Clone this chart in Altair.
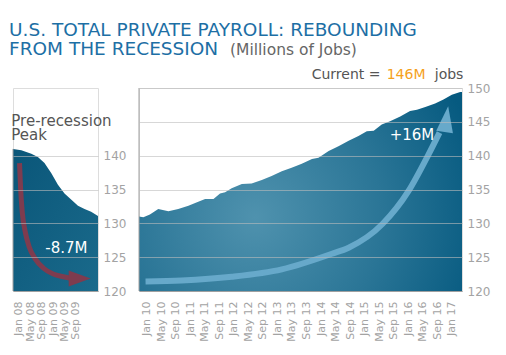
import json
import altair as alt
import pandas as pd

# ---------------- data ----------------
# Left panel: recession (month index, Jan 08 = 0)
left_idx = [-2.0, 0.9, 4.4, 6.7, 9.0, 11.4, 13.7, 16.0, 18.4, 20.7, 23.0, 25.3, 27.7]
left_val = [141.0, 140.8, 140.3, 139.8, 138.9, 137.4, 135.7, 134.4, 133.5, 132.6, 132.1, 131.7, 131.1]
left_labels = ["Jan 08", "May 08", "Sep 08", "Jan 09", "May 09", "Sep 09"]
left_ticks = [0, 4, 8, 12, 16, 20]
left_y_ticks = [120, 125, 130, 135, 140]
left_domain = [-2.0, 27.7]

# Right panel: recovery (month index, Jan 10 = 0)
right_idx = [-2.1, -0.9, 0.9, 3.2, 6.0, 8.7, 11.5, 14.2, 16.1, 18.4, 20.2, 21.6, 23.4,
             26.2, 28.9, 31.7, 34.4, 37.2, 39.9, 42.7, 45.5, 47.3, 50.1, 52.8, 55.6,
             58.3, 60.6, 62.5, 64.7, 67.0, 69.8, 72.5, 74.4, 76.7, 79.4, 81.7, 84.0,
             86.3, 86.8]
right_val = [131.0, 130.9, 131.3, 132.1, 131.8, 132.1, 132.6, 133.2, 133.6, 133.6, 134.4,
             134.6, 135.2, 135.8, 135.9, 136.4, 137.0, 137.7, 138.2, 138.8, 139.5, 139.7,
             140.7, 141.4, 142.2, 142.9, 143.6, 143.7, 144.6, 145.1, 145.8, 146.6, 146.8,
             147.2, 147.7, 148.3, 149.0, 149.4, 149.4]
right_labels = ["Jan 10", "May 10", "Sep 10", "Jan 11", "May 11", "Sep 11", "Jan 12",
                "May 12", "Sep 12", "Jan 13", "May 13", "Sep 13", "Jan 14", "May 14",
                "Sep 14", "Jan 15", "May 15", "Sep 15", "Jan 16", "May 16", "Sep 16",
                "Jan 17"]
right_ticks = [4 * i for i in range(len(right_labels))]
right_y_ticks = [120, 125, 130, 135, 140, 145, 150]
right_domain = [-2.1, 86.8]
y_domain = [120, 150]

# Annotation arrows (in data units of each panel)
down_arrow_idx = [0.28, 0.63, 1.22, 2.27, 3.67, 5.77, 8.57, 12.06, 15.6, 18.6]
down_arrow_val = [138.9, 135.4, 131.7, 128.75, 126.5, 124.75, 123.4, 122.5, 122.1, 121.85]
down_head = {"m": [21.3], "v": [121.85]}
up_arrow_idx = [-0.3, 9.6, 23.4, 37.2, 51.0, 55.6, 64.9, 72.1, 77.6, 80.6]
up_arrow_val = [121.4, 121.55, 122.1, 123.2, 125.5, 126.4, 129.9, 134.8, 140.2, 143.4]
up_head = {"m": [82.5], "v": [145.4]}

FONT = "DejaVu Sans"
GRAY = "#a3a3a3"
TITLE_BLUE = "#1d6fa5"


def label_expr(labels):
    return json.dumps(labels) + "[round(datum.value/4)]"


def text_layer(text, x, y, size, color, align="left", **kw):
    return alt.Chart(pd.DataFrame({"t": [text]})).mark_text(
        align=align, baseline="alphabetic", font=FONT, fontSize=size, color=color, **kw
    ).encode(x=alt.value(x), y=alt.value(y), text="t:N")


def y_axis(values):
    return alt.Axis(orient="right", values=values, domain=False, ticks=False,
                    labelColor=GRAY, labelFontSize=12, labelFont=FONT, labelPadding=5,
                    grid=True, gridColor="#bdbdbd", gridOpacity=0.6, zindex=1, title=None,
                    labelOverlap=False)


def x_axis(values, labels):
    return alt.Axis(values=values, labelExpr=label_expr(labels), labelAngle=270,
                    labelColor=GRAY, labelFontSize=11, labelFont=FONT, labelPadding=10,
                    ticks=False, domain=True, domainColor="#a0a0a0", grid=False,
                    title=None, labelOverlap=False, zindex=1)


# ---------------- left panel ----------------
lx = alt.X("m:Q", scale=alt.Scale(domain=left_domain, nice=False, zero=False),
           axis=x_axis(left_ticks, left_labels))
ly = alt.Y("v:Q", scale=alt.Scale(domain=y_domain, nice=False, zero=False),
           axis=y_axis(left_y_ticks))

ldf = pd.DataFrame({"m": left_idx, "v": left_val, "lo": y_domain[0]})
left_fill = {"gradient": "linear", "x1": 0, "y1": 0, "x2": 1, "y2": 1,
             "stops": [{"offset": 0, "color": "#0a5679"}, {"offset": 1, "color": "#1a6a8b"}]}
left_area = alt.Chart(ldf).mark_area(color=left_fill, opacity=1).encode(
    x=lx, y=ly, y2=alt.Y2("lo:Q"))
left_edge = alt.Chart(ldf.head(1)).mark_rule(color="#a0a0a0", strokeWidth=1).encode(
    x=lx, y=ly, y2=alt.Y2("lo:Q"))
dadf = pd.DataFrame({"m": down_arrow_idx, "v": down_arrow_val})
down_line = alt.Chart(dadf).mark_line(color="#7e3c4f", strokeWidth=5, interpolate="monotone",
                                      strokeCap="butt").encode(x=lx, y=ly)
down_tip = alt.Chart(pd.DataFrame(down_head)).mark_point(
    shape="M-1,-0.72L1,0L-1,0.72Z", size=484, filled=True, color="#7e3c4f", opacity=1
).encode(x=lx, y=ly)
down_txt = alt.Chart(pd.DataFrame({"m": [9.3], "v": [125.6], "t": ["-8.7M"]})).mark_text(
    align="left", baseline="alphabetic", font=FONT, fontSize=15, color="white"
).encode(x=lx, y=ly, text="t:N")

left = alt.layer(
    left_area, left_edge, down_line, down_tip, down_txt,
    text_layer("Pre-recession\nPeak", -1.7, 38, 15, "#555555", lineBreak="\n", lineHeight=14),
    text_layer("U.S. TOTAL PRIVATE PAYROLL: REBOUNDING", -4, -52, 18.5, TITLE_BLUE),
    text_layer("FROM THE RECESSION", -4, -33, 18.5, TITLE_BLUE),
    text_layer("(Millions of Jobs)", 217, -33, 15.5, "#666666"),
).properties(width=85, height=203)

# ---------------- right panel ----------------
rx = alt.X("m:Q", scale=alt.Scale(domain=right_domain, nice=False, zero=False),
           axis=x_axis(right_ticks, right_labels))
ry = alt.Y("v:Q", scale=alt.Scale(domain=y_domain, nice=False, zero=False),
           axis=y_axis(right_y_ticks))

rdf = pd.DataFrame({"m": right_idx, "v": right_val, "lo": y_domain[0]})
right_fill = {"gradient": "radial", "x1": 0.36, "y1": 0.58, "r1": 0,
              "x2": 0.36, "y2": 0.58, "r2": 0.72,
              "stops": [{"offset": 0, "color": "#4f92ae"},
                        {"offset": 0.55, "color": "#2a7596"},
                        {"offset": 1, "color": "#065a80"}]}
right_area = alt.Chart(rdf).mark_area(color=right_fill, opacity=1).encode(
    x=rx, y=ry, y2=alt.Y2("lo:Q"))
# left border of the right panel (start of the x domain, full y domain)
edge_df = pd.DataFrame({"m": [right_domain[0]], "v": [y_domain[1]], "lo": [y_domain[0]]})
right_edge = alt.Chart(edge_df).mark_rule(color="#a0a0a0", strokeWidth=1).encode(
    x=rx, y=ry, y2=alt.Y2("lo:Q"))

uadf = pd.DataFrame({"m": up_arrow_idx, "v": up_arrow_val})
up_line = alt.Chart(uadf).mark_line(color="#67a9ca", strokeWidth=6, interpolate="monotone",
                                    strokeCap="butt").encode(x=rx, y=ry)
up_tip = alt.Chart(pd.DataFrame(up_head)).mark_point(
    shape="M-0.65,1L0,-1L0.65,1Z", size=676, filled=True, color="#67a9ca", opacity=1, angle=8
).encode(x=rx, y=ry)
up_txt = alt.Chart(pd.DataFrame({"m": [66.9], "v": [142.3], "t": ["+16M"]})).mark_text(
    align="left", baseline="alphabetic", font=FONT, fontSize=15, color="white"
).encode(x=rx, y=ry, text="t:N")

right = alt.layer(
    right_area, right_edge, up_line, up_tip, up_txt,
    text_layer("Current =", 172.7, -9.3, 14, "#555555"),
    text_layer("146M", 247.7, -9.3, 14, "#f5a11c"),
    text_layer("jobs", 324.4, -9.3, 14, "#555555", align="right"),
).properties(width=323, height=203)

chart = alt.hconcat(left, right, spacing=41, bounds="flush").properties(
    padding={"left": 0, "top": 12, "right": 5, "bottom": 5}
).configure_view(stroke=None).configure_axis(labelOverlap=False).configure(background="white")

chart.save("out.html", embed_options={"renderer": "svg", "actions": False})
